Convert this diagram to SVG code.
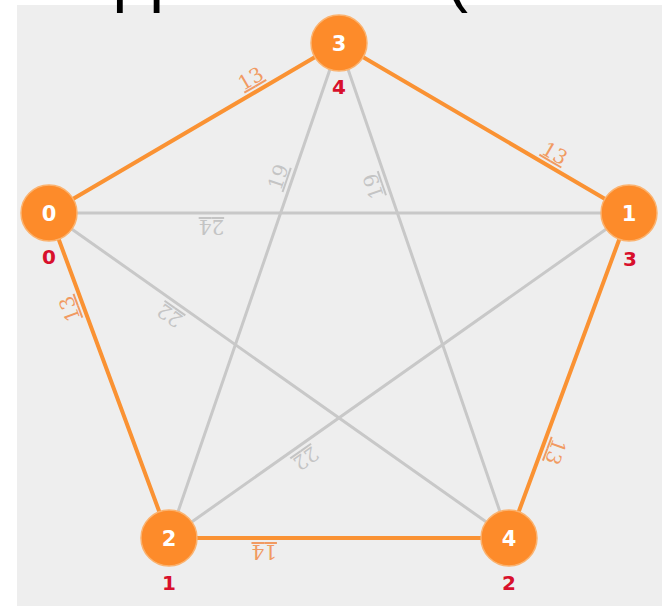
<svg xmlns="http://www.w3.org/2000/svg" xmlns:xlink="http://www.w3.org/1999/xlink" width="668" height="611" viewBox="0 0 668 611">
<style>
.bg{fill:#eeeeee}
.title{font-family:"Liberation Sans",Arial,sans-serif;font-size:66px;fill:#000}
.eo{stroke:#fa9233;stroke-width:4;fill:none;stroke-linecap:round}
.eg{stroke:#c8c8c8;stroke-width:3;fill:none;stroke-linecap:round}
.lo{font-family:"DejaVu Serif",serif;font-size:20px;fill:#f19a62;text-decoration:underline}
.lg{font-family:"DejaVu Serif",serif;font-size:20px;fill:#c4c4c4;text-decoration:underline}
.nc{fill:#fd8b2a;stroke:#fbb26e;stroke-width:1.5}
.nt{font-family:"DejaVu Sans",Verdana,sans-serif;font-weight:bold;font-size:21px;fill:#ffffff;text-anchor:middle}
.rt{font-family:"DejaVu Sans",Verdana,sans-serif;font-weight:bold;font-size:20px;fill:#d8102c;text-anchor:middle}
</style>
<rect width="668" height="611" fill="#ffffff"/>
<rect class="bg" x="17" y="5" width="645" height="601"/>
<text class="title" x="112.6" y="-1.5">pp</text>
<text class="title" x="446" y="-1.5">(</text>
<g id="connectors">
<path id="e10" class="eg" d="M629,213 L49,213"/>
<path id="e40" class="eg" d="M509,538 L49,213"/>
<path id="e12" class="eg" d="M629,213 L169,538"/>
<path id="e23" class="eg" d="M169,538 L339,43"/>
<path id="e43" class="eg" d="M509,538 L339,43"/>
<path id="e03" class="eo" d="M49,213 L339,43"/>
<path id="e31" class="eo" d="M339,43 L629,213"/>
<path id="e42" class="eo" d="M509,538 L169,538"/>
<path id="e20" class="eo" d="M169,538 L49,213"/>
<path id="e14" class="eo" d="M629,213 L509,538"/>
</g>
<g id="edge-labels" text-anchor="middle">
<text class="lg" dy="-7"><textPath xlink:href="#e10" href="#e10" startOffset="72%">24</textPath></text>
<text class="lg" dy="-7"><textPath xlink:href="#e40" href="#e40" startOffset="72%">22</textPath></text>
<text class="lg" dy="-7"><textPath xlink:href="#e12" href="#e12" startOffset="72%">22</textPath></text>
<text class="lg" dy="-7"><textPath xlink:href="#e23" href="#e23" startOffset="72%">19</textPath></text>
<text class="lg" dy="-7"><textPath xlink:href="#e43" href="#e43" startOffset="72%">19</textPath></text>
<text class="lo" dy="-7"><textPath xlink:href="#e03" href="#e03" startOffset="72%">13</textPath></text>
<text class="lo" dy="-7"><textPath xlink:href="#e31" href="#e31" startOffset="72%">13</textPath></text>
<text class="lo" dy="-7"><textPath xlink:href="#e42" href="#e42" startOffset="72%">14</textPath></text>
<text class="lo" dy="-7"><textPath xlink:href="#e20" href="#e20" startOffset="72%">13</textPath></text>
<text class="lo" dy="-7"><textPath xlink:href="#e14" href="#e14" startOffset="72%">13</textPath></text>
</g>
<g id="node-0"><circle class="nc" cx="49" cy="213" r="28"/><text class="nt" x="49" y="220.5">0</text><text class="rt" x="49" y="264">0</text></g>
<g id="node-1"><circle class="nc" cx="629" cy="213" r="28"/><text class="nt" x="629" y="220.5">1</text><text class="rt" x="630" y="266">3</text></g>
<g id="node-2"><circle class="nc" cx="169" cy="538" r="28"/><text class="nt" x="169" y="545.5">2</text><text class="rt" x="169" y="590">1</text></g>
<g id="node-3"><circle class="nc" cx="339" cy="43" r="28"/><text class="nt" x="339" y="50.5">3</text><text class="rt" x="339" y="94">4</text></g>
<g id="node-4"><circle class="nc" cx="509" cy="538" r="28"/><text class="nt" x="509" y="545.5">4</text><text class="rt" x="509" y="590">2</text></g>
</svg>
